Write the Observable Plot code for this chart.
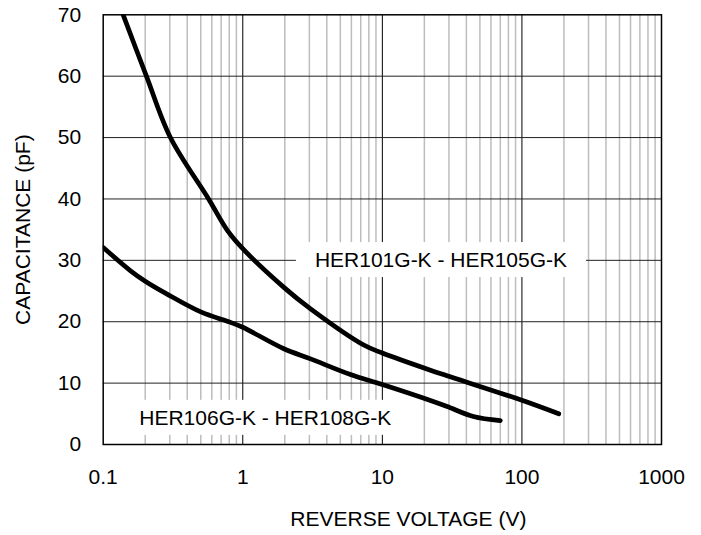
<!DOCTYPE html>
<html><head><meta charset="utf-8">
<script src="https://cdn.jsdelivr.net/npm/d3@7"></script>
<script src="https://cdn.jsdelivr.net/npm/@observablehq/plot@0.6"></script>
<style>body{margin:0;background:#fff} svg{display:block}</style>
</head><body><div id="chart"></div>
<script>
// HER101G-K - HER105G-K
const upperV = [0.139, 0.204, 0.303, 0.569, 0.78, 1, 1.97, 3.06, 7.36, 10, 22.1, 29.1, 100, 183.6];
const upperC = [70, 60, 50, 40, 34.8, 31.9, 25.6, 22.1, 16.2, 14.9, 12.1, 11.2, 7.2, 5.0];
// HER106G-K - HER108G-K
const lowerV = [0.1, 0.157, 0.2, 0.287, 0.5, 0.817, 1, 1.97, 3.06, 5.91, 10, 22.1, 29.1, 44.9, 70];
const lowerC = [32.1, 28.3, 26.6, 24.5, 21.6, 19.9, 19.1, 15.6, 13.95, 11.4, 9.77, 7.17, 6.19, 4.56, 3.9];

const seriesNames = ["HER101G-K - HER105G-K", "HER106G-K - HER108G-K"];
const labelV = [26.3, 1.45];
const labelC = [30.0, 4.3];

const xTicks = [0.1, 1, 10, 100, 1000];
const xTickLabels = ["0.1", "1", "10", "100", "1000"];
const yTicks = [0, 10, 20, 30, 40, 50, 60, 70];
const majorX = [1, 10, 100];
const decades = [0.1, 1, 10, 100];
const minorMultipliers = [2, 3, 4, 5, 6, 7, 8, 9];
const yGrid = [10, 20, 30, 40, 50, 60];
const xTitle = "REVERSE VOLTAGE (V)";
const yTitle = "CAPACITANCE (pF)";

const minorX = decades.flatMap(d => minorMultipliers.map(m => d * m));
const upper = upperV.map((v, i) => ({v, c: upperC[i]}));
const lower = lowerV.map((v, i) => ({v, c: lowerC[i]}));
const labels = seriesNames.map((n, i) => ({n, v: labelV[i], c: labelC[i]}));
const xTickData = xTicks.map((v, i) => ({v, t: xTickLabels[i]}));

const FS = 21, LS = "0.7px";

const chart = Plot.plot({
  width: 701,
  height: 535,
  marginLeft: 102.7,
  marginRight: 40,
  marginTop: 14.3,
  marginBottom: 91,
  style: {fontFamily: "'Liberation Sans', Arial, sans-serif", fontSize: FS + "px", color: "#000", background: "#fff"},
  x: {type: "log", domain: [0.1, 1000], axis: null},
  y: {domain: [0, 70], axis: null},
  marks: [
    Plot.ruleX(minorX, {stroke: "#bdbdbd", strokeWidth: 1.5}),
    Plot.ruleX(majorX, {stroke: "#000", strokeWidth: 1}),
    Plot.ruleY(yGrid, {stroke: "#222", strokeWidth: 1}),
    Plot.text(xTickData, {x: "v", text: "t", frameAnchor: "bottom", lineAnchor: "top", dy: 25, fontSize: FS, letterSpacing: LS, fill: "#000"}),
    Plot.text(yTicks, {y: d => d, text: d => String(d), frameAnchor: "left", textAnchor: "end", dx: -22, fontSize: FS, letterSpacing: LS, fill: "#000"}),
    Plot.text(labels, {x: "v", y: "c", text: "n", fontSize: FS, fill: "#000", letterSpacing: LS}),
    Plot.line(upper, {x: "v", y: "c", stroke: "#000", strokeWidth: 4.7, curve: "catmull-rom", clip: true}),
    Plot.line(lower, {x: "v", y: "c", stroke: "#000", strokeWidth: 4.7, curve: "catmull-rom", clip: true}),
    Plot.frame({stroke: "#000", strokeWidth: 1.5}),
    Plot.text([xTitle], {frameAnchor: "bottom", dx: 26, dy: 81, fontSize: FS, letterSpacing: LS, fill: "#000"}),
    Plot.text([yTitle], {frameAnchor: "left", textAnchor: "middle", dx: -80, rotate: -90, fontSize: FS, letterSpacing: LS, fill: "#000"})
  ]
});
document.getElementById("chart").append(chart);

// white boxes behind the series labels
const padX = 19, padY = 6;
Array.from(chart.querySelectorAll("text"))
  .filter(t => seriesNames.includes(t.textContent))
  .forEach(t => {
    const b = t.getBBox();
    const r = document.createElementNS("http://www.w3.org/2000/svg", "rect");
    r.setAttribute("x", b.x - padX);
    r.setAttribute("y", b.y - padY);
    r.setAttribute("width", b.width + 2 * padX);
    r.setAttribute("height", b.height + 2 * padY);
    r.setAttribute("fill", "#fff");
    r.setAttribute("stroke", "none");
    const tr = t.getAttribute("transform");
    if (tr) r.setAttribute("transform", tr);
    t.parentNode.insertBefore(r, t);
  });
</script>
</body></html>
